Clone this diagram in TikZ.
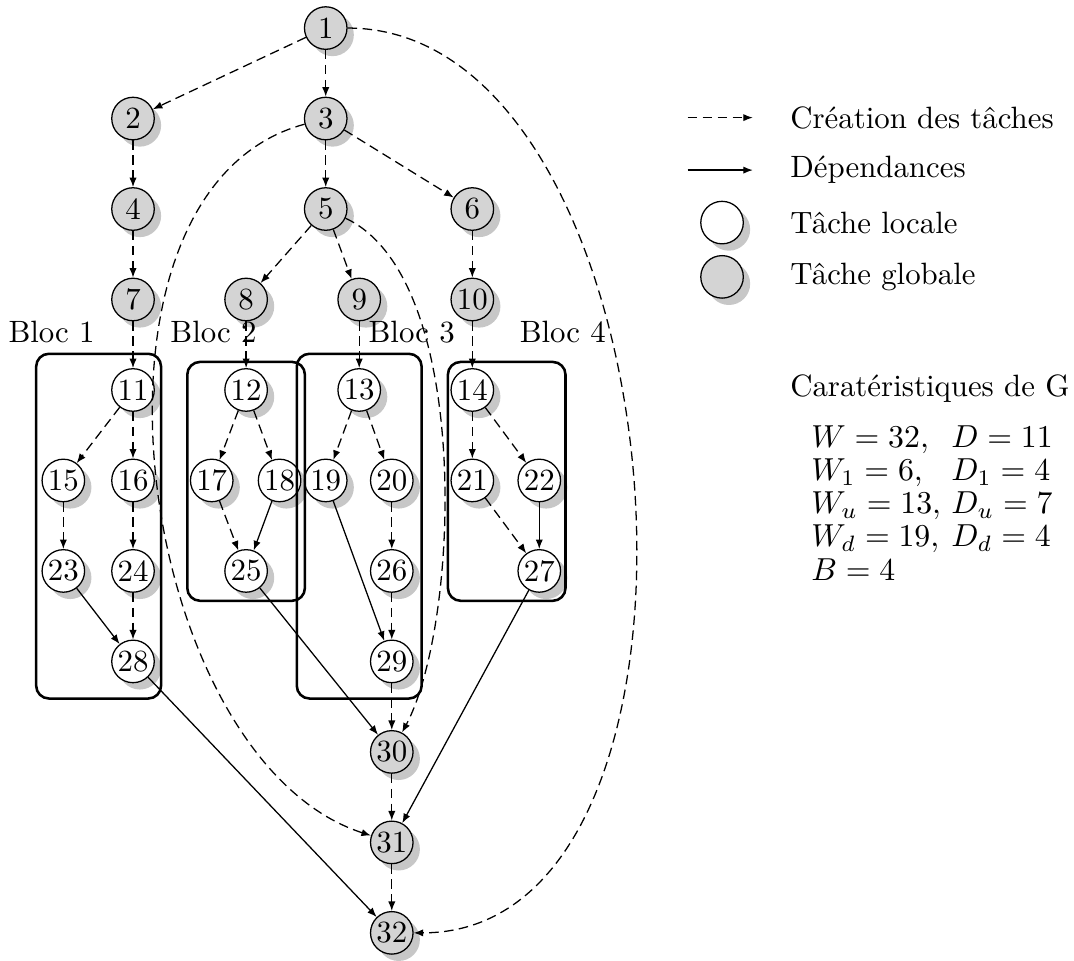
\documentclass[tikz,border=0pt]{standalone}
\usepackage{amsmath}
\usepackage{tikz}
\usetikzlibrary{arrows.meta,shadows}

\begin{document}
\begin{tikzpicture}[>={Latex[length=3pt,width=2.3pt]},
  every node/.style={font=\fontsize{9.7}{11.6}\selectfont},
  tache/.style={circle, draw, thin, minimum size=0.47cm, inner sep=0pt,
    drop shadow={fill=black!22, opacity=1}},
  locale/.style={tache, fill=white},
  globale/.style={tache, fill=black!17},
  creation/.style={->, dash pattern=on 3pt off 1.7pt},
  dep/.style={->},
  bloc/.style={draw, line width=0.8pt, rounded corners=4pt}]
  \useasboundingbox (0,0.31) rectangle (11.87,-10.31);
  % global tasks
  \foreach \n/\x/\y in {1/3.60/0, 2/1.47/-1, 3/3.60/-1, 4/1.47/-2, 5/3.60/-2, 6/5.22/-2,
      7/1.47/-3, 8/2.72/-3, 9/3.97/-3, 10/5.22/-3, 30/4.33/-8, 31/4.33/-9, 32/4.33/-10}
    \node[globale] (t\n) at (\x,\y) {\n};
  % local tasks of the blocks
  \foreach \n/\x/\y in {11/1.47/-4, 12/2.72/-4, 13/3.97/-4, 14/5.22/-4,
      15/0.70/-5, 16/1.47/-5, 17/2.34/-5, 18/3.09/-5, 19/3.60/-5, 20/4.33/-5, 21/5.22/-5, 22/5.96/-5,
      23/0.70/-6, 24/1.47/-6, 25/2.72/-6, 26/4.33/-6, 27/5.96/-6, 28/1.47/-7, 29/4.33/-7}
    \node[locale] (t\n) at (\x,\y) {\n};
  % blocks
  \draw[bloc] (0.40,-3.60) rectangle (1.78,-7.41);
  \draw[bloc] (2.07,-3.69) rectangle (3.37,-6.33);
  \draw[bloc] (3.28,-3.60) rectangle (4.66,-7.41);
  \draw[bloc] (4.95,-3.69) rectangle (6.25,-6.33);
  \node (bloc1) at (0.57,-3.36) {Bloc 1};
  \node (bloc2) at (2.36,-3.36) {Bloc 2};
  \node (bloc3) at (4.55,-3.36) {Bloc 3};
  \node (bloc4) at (6.22,-3.36) {Bloc 4};
  % task creation
  \foreach \a/\b in {1/2, 1/3, 2/4, 3/5, 3/6, 4/7, 5/8, 5/9, 6/10, 7/11, 8/12, 9/13, 10/14,
      11/15, 11/16, 12/17, 12/18, 13/19, 13/20, 14/21, 14/22, 15/23, 16/24, 17/25, 20/26,
      21/27, 24/28, 26/29, 29/30, 30/31, 31/32}
    \draw[creation] (t\a) -- (t\b);
  \draw[creation] (t1) .. controls +(0:3.96) and +(0:3.96) .. (t32);
  \draw[creation] (t3) .. controls +(195:3.05) and +(162:3.0) .. (t31);
  \draw[creation] (t5) .. controls +(-25:1.8) and +(62:1.6) .. (t30);
  % dependencies
  \foreach \a/\b in {18/25, 19/29, 23/28, 22/27, 25/30, 27/31, 28/32}
    \draw[dep] (t\a) -- (t\b);
  % legend
  \coordinate (lc1) at (7.60,-0.99);
  \coordinate (lc2) at (8.32,-0.99);
  \coordinate (ld1) at (7.60,-1.57);
  \coordinate (ld2) at (8.32,-1.57);
  \draw[creation] (lc1) -- (lc2);
  \draw[dep] (ld1) -- (ld2);
  \node[locale] (leglocale) at (7.98,-2.15) {};
  \node[globale] (legglobale) at (7.98,-2.75) {};
  \node[anchor=west] (txtcrea) at (8.61,-0.99) {Création des tâches};
  \node[anchor=west] (txtdep) at (8.61,-1.57) {Dépendances};
  \node[anchor=west] (txtlocale) at (8.61,-2.15) {Tâche locale};
  \node[anchor=west] (txtglobale) at (8.61,-2.75) {Tâche globale};
  \node[anchor=west] (carac) at (8.61,-3.98) {Caratéristiques de G};
  \node[anchor=north west, inner sep=0pt] (valeurs) at (8.96,-4.37)
    {\renewcommand{\arraystretch}{0.9}%
     \begin{tabular}{@{}l@{\ }l@{}}
       $W=32,$ & $D=11$\\
       $W_1=6,$ & $D_1=4$\\
       $W_u=13,$ & $D_u=7$\\
       $W_d=19,$ & $D_d=4$\\
       $B=4$ &
     \end{tabular}};
\end{tikzpicture}
\end{document}
